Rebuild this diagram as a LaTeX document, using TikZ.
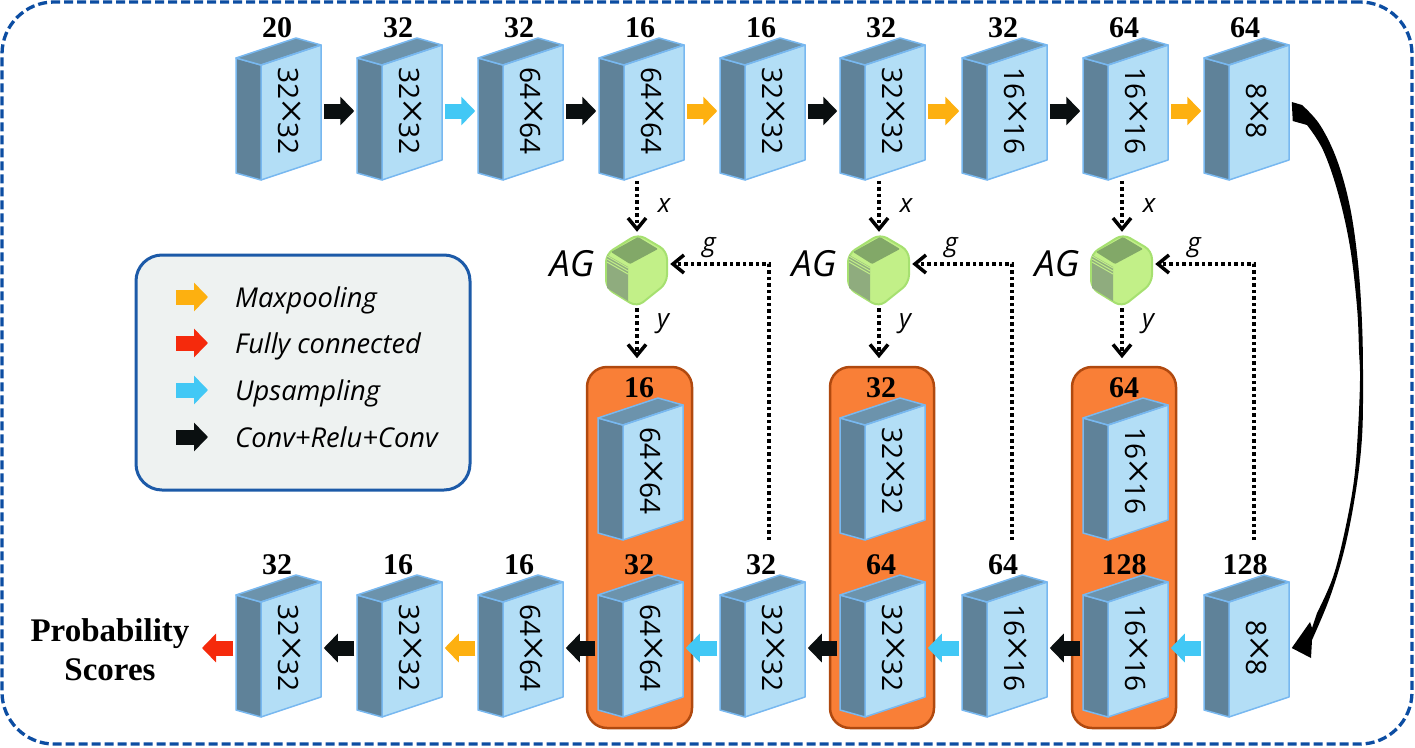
\documentclass[tikz,border=0pt]{standalone}
\usepackage{fontspec}
\setmainfont{Liberation Serif}
\newfontfamily\uifont{Open Sans}
\usetikzlibrary{arrows.meta,calc}

\definecolor{frameblue}{HTML}{0C4DA2}
\definecolor{legendedge}{HTML}{1C5AA8}
\definecolor{legendfill}{HTML}{EEF2F1}
\definecolor{faceblue}{HTML}{B3DEF6}
\definecolor{sideblue}{HTML}{5F8299}
\definecolor{topblue}{HTML}{6C93AC}
\definecolor{edgeblue}{HTML}{78B8F0}
\definecolor{stackorange}{HTML}{F97F37}
\definecolor{stackedge}{HTML}{B0490F}
\definecolor{opblack}{HTML}{0A0F10}
\definecolor{opcyan}{HTML}{42C8F5}
\definecolor{opamber}{HTML}{FDB010}
\definecolor{opred}{HTML}{F52A0C}
\definecolor{aglight}{HTML}{C2F088}
\definecolor{agedge}{HTML}{A6E070}
\definecolor{agtop}{HTML}{82A868}
\definecolor{agside}{HTML}{8FAC7E}

% A thin, wide multiplication sign between the digits of a spatial size
\newcommand{\bytimes}{\kern-1.5pt{\rmfamily\fontsize{46}{28}\selectfont\raisebox{-2pt}{×}}\kern-1.5pt}

\tikzset{
  blockarrow/.style={line width=15pt,-{Triangle[length=14pt,width=28pt]},shorten >=0pt},
  gate/.style={line width=4pt,dash pattern=on 3.5pt off 3pt,
    -{Straight Barb[length=11pt,width=18pt,line width=3.5pt]}},
  sizetext/.style={font=\uifont\fontsize{28}{28}\selectfont,rotate=-90,inner sep=0pt},
  counttext/.style={font=\bfseries\fontsize{30}{30}\selectfont,inner sep=0pt},
  opname/.style={font=\uifont\itshape\fontsize{27.3}{27.3}\selectfont,anchor=base west,inner sep=0pt},
  gatetext/.style={font=\uifont\itshape\fontsize{26}{26}\selectfont,inner sep=0pt},
  gatename/.style={font=\uifont\itshape\fontsize{36}{36}\selectfont,inner sep=0pt},
  stackbg/.style={draw=stackedge,fill=stackorange,line width=2.5pt,rounded corners=20pt},
  mono/.style={inner sep=0pt,minimum width=85pt,minimum height=142pt}
}

% One feature block: name, left x, top y, channel count, spatial size
\newcommand{\featblock}[5]{%
  \begin{scope}[shift={(#2,#3)},line width=1.5pt,draw=edgeblue,line join=round]
    \fill[faceblue] (25,27) -- (85,7) -- (85,122) -- (25,142) -- cycle;
    \filldraw[fill=sideblue] (0,20) -- (25,27) -- (25,142) -- (0,135) -- cycle;
    \filldraw[fill=topblue] (0,20) -- (60,0) -- (85,7) -- (25,27) -- cycle;
    \draw (25,27) -- (85,7) -- (85,122) -- (25,142);
    \node[mono] (#1) at (42.5,73) {};
    \node[sizetext] (#1-size) at (53,73) {#5};
    \node[counttext] (#1-count) at (41,-10) {#4};
  \end{scope}}

% One attention gate centred on (x,270), with its labels
\newcommand{\attgate}[2]{%
  \begin{scope}[shift={(#2,270)},line join=round]
    \filldraw[fill=aglight,draw=agedge,line width=2pt,rounded corners=8pt]
      (1,-36) -- (30,-19) -- (30,13) -- (0,37) -- (-31,18) -- (-31,-16) -- cycle;
    \fill[agtop,rounded corners=1pt] (1,-33) -- (21,-21) -- (-7,-6) -- (-26,-18) -- cycle;
    \fill[agside] (-30,-15) -- (-9,-3) -- (-9,31) -- (-30,18) -- cycle;
    \foreach \k in {-14,-11,-8}
      \draw[aglight,line width=1pt] (-30,\k) -- (-9,\k+12);
    \node[inner sep=0pt,minimum width=60pt,minimum height=70pt] (#1) at (0,0) {};
    \node[gatename] (#1-name) at (-65,-6) {AG};
    \node[gatetext] (#1-x) at (27,-64) {x};
    \node[gatetext] (#1-y) at (26,54) {y};
    \node[gatetext] (#1-g) at (72,-22) {g};
  \end{scope}}

\begin{document}
\begin{tikzpicture}[x=1pt,y=-1pt]
\useasboundingbox (0,0) rectangle (1415,747);

% Outer dashed frame
\node[draw=frameblue,line width=3.3pt,dash pattern=on 9pt off 4pt,rounded corners=52pt,
  minimum width=1410pt,minimum height=742pt,inner sep=0pt] (frame) at (707,373) {};

% Orange groups behind the concatenated blocks
\node[stackbg,minimum width=105pt,minimum height=361pt,inner sep=0pt] (s1) at (639.5,547.5) {};
\node[stackbg,minimum width=104pt,minimum height=361pt,inner sep=0pt] (s2) at (882,547.5) {};
\node[stackbg,minimum width=104pt,minimum height=361pt,inner sep=0pt] (s3) at (1124,547.5) {};

% Encoder row
\featblock{t1}{236}{38}{20}{32\bytimes32}
\featblock{t2}{357}{38}{32}{32\bytimes32}
\featblock{t3}{478}{38}{32}{64\bytimes64}
\featblock{t4}{599}{38}{16}{64\bytimes64}
\featblock{t5}{720}{38}{16}{32\bytimes32}
\featblock{t6}{840}{38}{32}{32\bytimes32}
\featblock{t7}{962}{38}{32}{16\bytimes16}
\featblock{t8}{1083}{38}{64}{16\bytimes16}
\featblock{t9}{1204}{38}{64}{8\bytimes8}

% Gated skip blocks
\featblock{u1}{598}{398}{16}{64\bytimes64}
\featblock{u2}{840}{398}{32}{32\bytimes32}
\featblock{u3}{1083}{398}{64}{16\bytimes16}

% Decoder row
\featblock{b1}{236}{575}{32}{32\bytimes32}
\featblock{b2}{357}{575}{16}{32\bytimes32}
\featblock{b3}{478}{575}{16}{64\bytimes64}
\featblock{b4}{598}{575}{32}{64\bytimes64}
\featblock{b5}{720}{575}{32}{32\bytimes32}
\featblock{b6}{840}{575}{64}{32\bytimes32}
\featblock{b7}{962}{575}{64}{16\bytimes16}
\featblock{b8}{1083}{575}{128}{16\bytimes16}
\featblock{b9}{1204}{575}{128}{8\bytimes8}

% Encoder operations
\foreach \a/\b/\c in {t1/t2/opblack,t2/t3/opcyan,t3/t4/opblack,t4/t5/opamber,
                      t5/t6/opblack,t6/t7/opamber,t7/t8/opblack,t8/t9/opamber}
  \draw[blockarrow,draw=\c,shorten <=2pt,shorten >=2pt] (\a.east) -- (\b.west);

% Decoder operations
\foreach \a/\b/\c in {b9/b8/opcyan,b8/b7/opblack,b7/b6/opcyan,b6/b5/opblack,
                      b5/b4/opcyan,b4/b3/opblack,b3/b2/opamber,b2/b1/opblack}
  \draw[blockarrow,draw=\c,shorten <=2pt,shorten >=2pt] (\a.west) -- (\b.east);

% Output
\node[font=\bfseries\fontsize{33}{33}\selectfont,align=center,inner sep=0pt] (scores) at (110,650)
  {Probability\\[6pt]Scores};
\coordinate (outtip) at (202,648);
\draw[blockarrow,draw=opred,shorten <=2pt] (b1.west) -- (outtip);

% Attention gates
\attgate{g1}{637}
\attgate{g2}{879}
\attgate{g3}{1122}

\foreach \t/\g/\u/\x in {t4/g1/u1/769,t6/g2/u2/1012,t8/g3/u3/1254}{
  \coordinate (\g-start) at (\x,540);
  \coordinate (\g-in) at ($(\g.east)+(3,-6)$);
  \draw[gate] (\t.south -| \g.north) ++(0,-2) -- ($(\g.north)+(0,-3)$);
  \draw[gate] ($(\g.south)+(0,3)$) -- ($(\g.south)+(0,53)$);
  \draw[gate] (\g-start) |- (\g-in);
}

% Bottleneck link, a tapered curved arrow
\coordinate (neckout) at ($(t9.east)+(2,-9)$);
\coordinate (neckin) at ($(t9.east)+(3,10)$);
\coordinate (necktip) at ($(b9.east)+(2,0)$);
\fill[black] (neckout)
  -- plot[smooth,tension=0.6] coordinates {(1302,105) (1320,125) (1337,160) (1350,207) (1358,263)
       (1362,323) (1363,380) (1362,437) (1356,490) (1345,547) (1330,597) (1312,640)}
  -- (1311,658) -- (necktip) -- (1310,622) -- (1312,628)
  -- plot[smooth,tension=0.6] coordinates {(1317,613) (1333,577) (1345,530) (1354,480) (1358,430)
       (1360,380) (1359,350) (1357,307) (1350,247) (1338,193) (1323,150) (1307,125)}
  -- (neckin) -- cycle;

% Legend
\node[draw=legendedge,fill=legendfill,line width=3pt,rounded corners=26pt,
  minimum width=334pt,minimum height=235pt,inner sep=0pt] (legend) at (303,372.5) {};
\foreach \n/\yy/\c/\t in {maxp/297/opamber/Maxpooling,
                          fc/343/opred/Fully connected,
                          ups/390/opcyan/Upsampling,
                          crc/437/opblack/Conv+Relu+Conv}{
  \coordinate (\n-a) at (176,\yy);
  \coordinate (\n-b) at (208,\yy);
  \node[opname] (\n-t) at (235,\yy+10) {\t};
  \draw[blockarrow,draw=\c] (\n-a) -- (\n-b);
}
\end{tikzpicture}
\end{document}
